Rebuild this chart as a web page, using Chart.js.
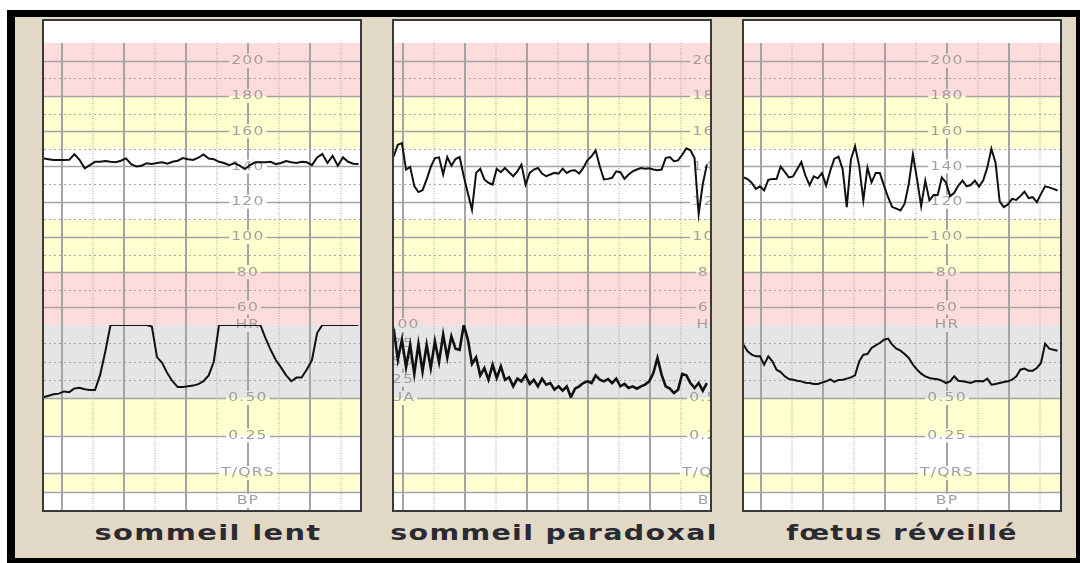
<!DOCTYPE html>
<html>
<head>
<meta charset="utf-8">
<script src="https://cdn.jsdelivr.net/npm/chart.js@4.4.1/dist/chart.umd.min.js"></script>
<style>
  body { margin: 0; width: 1080px; height: 563px; background: #fff; position: relative; overflow: hidden; font-family: "DejaVu Sans", sans-serif; }
  #frame { position: absolute; left: 7px; top: 10px; width: 1073px; height: 553px; box-sizing: border-box;
           background: #e1d9c6; border-style: solid; border-color: #000; border-width: 7px 4px 5px 8px; }
  .panel { position: absolute; top: 19px; width: 316px; height: 489px; border: 2px solid #3a3a3a; background: #fff; }
  .panel canvas { position: absolute; left: 0; top: 22px; }
  .title { position: absolute; top: 523px; font-weight: bold; font-size: 21px; line-height: 21px; color: #2b2a33;
           white-space: nowrap; letter-spacing: 1px; }
</style>
</head>
<body>
<div id="frame"></div>
<div class="panel" style="left:42px"><canvas id="strip1" width="316" height="467"></canvas></div>
<div class="panel" style="left:392px"><canvas id="strip2" width="316" height="467"></canvas></div>
<div class="panel" style="left:742px"><canvas id="strip3" width="316" height="467"></canvas></div>
<div class="title" id="t1" style="left:208px">sommeil lent</div>
<div class="title" id="t2" style="left:554px">sommeil paradoxal</div>
<div class="title" id="t3" style="left:902px">fœtus réveillé</div>

<script>
// --- data (time in seconds, HR in bpm, UA in %) ---
const p1Start = -18, p1Step = 5;
const p1Hr = [144.5,144.1,143.6,143.6,143.6,143.7,146.9,143.7,138.9,140.7,
              142.6,142.6,143,142.6,142.4,143.2,144.5,141.3,140,140.4,
              141.8,141.3,141.9,142.3,141.5,142.6,143.2,144.7,144.1,143.6,
              144.9,146.8,144.5,144.1,142.6,141.9,140.7,141.9,140.4,138.5,
              140.7,142.3,142.3,142.3,142.6,141.3,141.9,143,142.3,141.9,
              142.6,142.3,140.7,145.1,147,141.9,146,140.4,145.1,142.6,
              141.5,141.3];
const p1Ua = [1,3,5,6,9,8,13,14,12,11,
              11,32,64,100,100,100,100,100,100,100,
              100,98,56,48,34,23,15,15,16,17,
              19,23,31,50,100,100,100,100,100,100,
              100,100,100,82,66,52,42,31,23,28,
              28,39,52,89,100,100,100,100,100,100,
              100,100];

const p2Start = -9, p2Step = 4;
const p2Hr = [145.7,152.3,153.2,138.2,139.7,128.8,125.4,126.5,132.6,139.7,
              144.7,145.1,135.4,145.3,140.4,144.2,145.3,134.4,124.7,115.3,
              136.3,138.6,132.6,130.7,129.7,138.6,136.7,139.1,136.7,134.4,
              137.2,141,129.7,136.3,138.2,139.1,135.9,134.4,135.4,136.3,
              135.9,138.7,136.3,137.6,137.8,135.9,139.1,143.4,145.7,149.1,
              140.1,132.6,132.9,133.5,137.2,136.7,132.9,135.4,137.2,138.2,
              139.1,138.7,138.9,138.2,137.8,138.2,144.7,145.3,142.9,143.4,
              146.6,150.2,149.1,144.7,113,130,141];
const p2Ua = [95,52.5,80,42,73,33,74,36.5,73,41,
              77.6,49,87,55,84.5,67.6,66,100,80,46.6,
              55.7,31,41,25,45.7,27.4,43.4,25,28.3,16,
              26.5,22.8,31,19.2,25,16,26.5,18.3,20.5,11.4,
              16,10,16,1,12.8,16,20.5,22.8,20.5,31,
              25,22.8,26,20.5,26.5,16,19.2,13.7,16,12.8,
              16,18.3,22.8,34.2,54.8,32,16,12.8,6.8,11.4,
              33,31,20.5,13.7,20.5,10,20.5];

const p3Start = -17, p3Step = 4;
const p3Hr = [133.7,132.8,130.6,127.2,128.7,126.3,132.4,132.8,132.8,139.9,
              136.9,133.7,134.3,138.4,142.5,134.7,129.4,134.3,133.2,136.2,
              129.1,137.5,144.4,145.5,138.4,116.9,144,151.5,140.3,120.7,
              139.3,130.9,136.2,136.2,129.1,122.5,116.9,116,115,118.8,
              130,146.8,132.8,117.5,131.9,120.7,123.8,123.8,133.7,130.9,
              123.1,125,129.1,131.9,128.7,129.4,131.9,128.5,131.9,139.3,
              150,142.1,120.1,116.9,118.4,121.6,121,123.1,125.7,122,
              122.5,119.7,124.4,128.7,128.1,127.2,126.3];
const p3Ua = [73,63.9,59.4,57.1,57.1,45.7,57.1,50.2,38.8,35.6,
              29.7,26,25.1,23.7,22.8,21,20.5,19.2,19.2,21,
              22.8,25.6,22,24.7,25.1,26.5,28.3,31,50.2,59.4,
              60.3,68.5,72.1,75.3,79.9,81.3,73,67.6,64.8,60.3,
              54.8,45.7,38.8,33.3,29.7,27.4,26.5,25.6,23.7,20.5,
              22.8,29.7,23.7,22.8,21.9,20.5,22.8,23.3,22.8,26.5,
              18.3,19.2,20.5,21.9,22.8,25.1,29.2,38.8,40.2,37.4,
              37.4,41.1,48,74.4,67.6,66.2,64.8];

// bands and scale marks of the paper
const hrBands = [[180, 210, 'alarm'], [150, 180, 'warn'], [110, 150, 'normal'], [80, 110, 'warn'], [50, 80, 'alarm']];
const uaBands = [[0, 100, 'ua']];
const tqBands = [[0.25, 0.5, 'warn'], [0, 0.25, 'normal']];
const bpBands = [[50, 100, 'warn'], [0, 50, 'normal']];
const hrMajor = [200, 180, 160, 140, 120, 100, 80, 60];
const hrMinor = [190, 170, 150, 130, 110, 90, 70];
const uaMinor = [75, 50, 25];
const tqMajor = [0.5, 0.25, 0];
const bpMajor = [50];
const hrLabels = [[200, '200'], [180, '180'], [160, '160'], [140, '140'], [120, '120'], [100, '100'], [80, '80'], [60, '60'], [50, 'HR']];
const tqLabels = [[0.5, '0.50'], [0.25, '0.25'], [0, 'T/QRS']];
const bpLabels = [[25, 'BP']];
const uaLabels = [[100, '100'], [75, '75'], [50, '50'], [25, '25'], [0, 'UA']];

const bandColour = { alarm: '#ffdcdc', warn: '#ffffd0', normal: '#ffffff', ua: '#e5e5e5' };
const gridColour = '#a4a4a4';
const labelColour = '#a0a0a0';

function toPoints(values, start, step) {
  return values.map((v, i) => ({ x: start + i * step, y: v }));
}

// paper background: bands, dotted + solid grid, scale labels
function paintBands(chart) {
  const { ctx, chartArea: a, scales } = chart;
  [['hr', hrBands], ['ua', uaBands], ['tq', tqBands], ['bp', bpBands]].forEach(([id, bands]) => {
    bands.forEach(([lo, hi, kind]) => {
      const y1 = scales[id].getPixelForValue(hi), y2 = scales[id].getPixelForValue(lo);
      ctx.fillStyle = bandColour[kind];
      ctx.fillRect(a.left, y1, a.width, y2 - y1);
    });
  });
}

function hLines(chart, id, values, dash, width) {
  const { ctx, chartArea: a, scales } = chart;
  ctx.setLineDash(dash);
  ctx.lineWidth = width;
  values.forEach(v => {
    const y = Math.round(scales[id].getPixelForValue(v)) + 0.5;
    ctx.beginPath(); ctx.moveTo(a.left, y); ctx.lineTo(a.right, y); ctx.stroke();
  });
}

function vLines(chart, offset, dash, width) {
  const { ctx, chartArea: a, scales } = chart;
  const x = scales.x;
  ctx.setLineDash(dash);
  ctx.lineWidth = width;
  for (let t = Math.ceil((x.min - offset) / 60) * 60 + offset; t <= x.max; t += 60) {
    const px = Math.round(x.getPixelForValue(t));
    ctx.beginPath(); ctx.moveTo(px, a.top); ctx.lineTo(px, a.bottom); ctx.stroke();
  }
}

function drawLabel(chart, t, id, v, text) {
  const ctx = chart.ctx;
  const px = chart.scales.x.getPixelForValue(t);
  const py = chart.scales[id].getPixelForValue(v);
  const sx = 1.2;
  const w = ctx.measureText(text).width * sx;
  ctx.save();
  ctx.beginPath();
  ctx.rect(px - w / 2 - 2, py - 7, w + 4, 14);
  ctx.clip();
  paintBands(chart);
  ctx.restore();
  ctx.save();
  ctx.translate(px, py);
  ctx.scale(sx, 1);
  ctx.fillText(text, 0, 0);
  ctx.restore();
}

const paperPlugin = {
  id: 'paper',
  beforeDatasetsDraw(chart, args, opts) {
    const { ctx, chartArea: a } = chart;
    ctx.save();
    ctx.beginPath(); ctx.rect(a.left, a.top, a.width, a.height); ctx.clip();
    paintBands(chart);
    ctx.strokeStyle = gridColour;
    hLines(chart, 'hr', hrMinor, [2, 3], 1);
    hLines(chart, 'ua', uaMinor, [2, 3], 1);
    vLines(chart, 30, [1, 1.5], 1);
    hLines(chart, 'hr', hrMajor, [], 1.5);
    hLines(chart, 'tq', tqMajor, [], 1.5);
    hLines(chart, 'bp', bpMajor, [], 1.5);
    vLines(chart, 0, [], 2);
    ctx.setLineDash([]);
    ctx.font = '13px "DejaVu Sans"';
    ctx.letterSpacing = '1px';
    ctx.textAlign = 'center';
    ctx.textBaseline = 'middle';
    ctx.fillStyle = labelColour;
    hrLabels.forEach(([v, s]) => drawLabel(chart, opts.labelAt, 'hr', v, s));
    tqLabels.forEach(([v, s]) => drawLabel(chart, opts.labelAt, 'tq', v, s));
    bpLabels.forEach(([v, s]) => drawLabel(chart, opts.labelAt, 'bp', v, s));
    if (opts.uaLabelAt !== null) {
      uaLabels.forEach(([v, s]) => drawLabel(chart, opts.uaLabelAt, 'ua', v, s));
    }
    ctx.restore();
  }
};

function stackedY(min, max, stackWeight, weight) {
  return { type: 'linear', min, max, display: false, position: 'left', stack: 'strip', stackWeight, weight };
}

function makeStrip(canvasId, hr, ua, start, step, xMin, xMax, labelAt, uaLabelAt, uaWidth) {
  return new Chart(document.getElementById(canvasId), {
    type: 'line',
    data: {
      datasets: [
        { data: toPoints(hr, start, step), yAxisID: 'hr', borderColor: '#111', borderWidth: 2 },
        { data: toPoints(ua, start, step), yAxisID: 'ua', borderColor: '#111', borderWidth: uaWidth }
      ]
    },
    options: {
      responsive: false,
      animation: false,
      layout: { padding: 0 },
      elements: { point: { radius: 0 }, line: { tension: 0 } },
      plugins: { legend: { display: false }, tooltip: { enabled: false }, paper: { labelAt, uaLabelAt } },
      scales: {
        x: { type: 'linear', min: xMin, max: xMax, display: false },
        hr: stackedY(50, 210, 282, 4),
        ua: stackedY(0, 100, 73, 3),
        tq: stackedY(0, 0.5, 75, 2),
        bp: stackedY(0, 100, 37, 1)
      }
    },
    plugins: [paperPlugin]
  });
}

makeStrip('strip1', p1Hr, p1Ua, p1Start, p1Step, -17.4, 288.5, 180, null, 2);
makeStrip('strip2', p2Hr, p2Ua, p2Start, p2Step, -8.7, 298, 297, 0, 2.6);
makeStrip('strip3', p3Hr, p3Ua, p3Start, p3Step, -16.5, 289.4, 180, null, 2);

// titles are stretched to the width they have on the original strip
[['t1', 227], ['t2', 328], ['t3', 231]].forEach(([id, target]) => {
  const el = document.getElementById(id);
  el.style.transform = 'translateX(-50%) scaleX(' + (target / el.offsetWidth) + ')';
});
</script>
</body>
</html>
